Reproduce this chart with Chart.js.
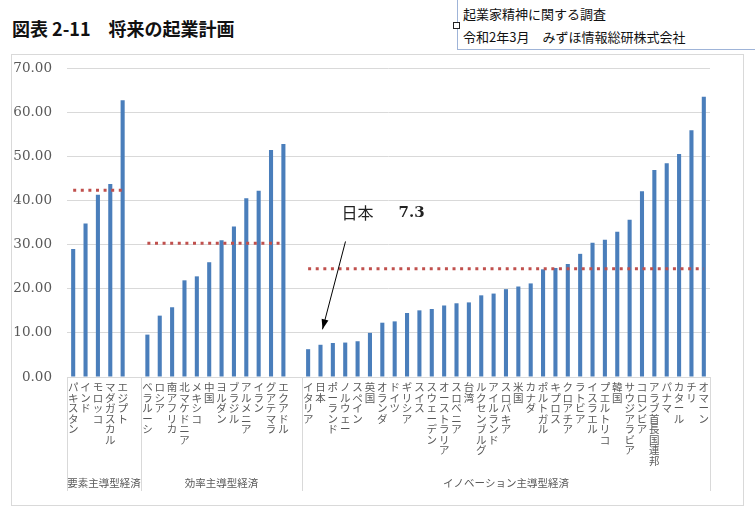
<!DOCTYPE html>
<html>
<head>
<meta charset="utf-8">
<script src="https://cdn.jsdelivr.net/npm/chart.js@4"></script>
<style>
  body { margin: 0; background: #fff; width: 755px; height: 512px; overflow: hidden; position: relative; font-family: "Noto Sans CJK JP", sans-serif; }
  .title { position: absolute; left: 12px; top: 15px; font-size: 18px; font-weight: bold; color: #111; white-space: pre; }
  .note { position: absolute; left: 457px; top: -1px; width: 310px; height: 49px; border: 1px solid #9fb4d8; font-size: 13px; color: #111; }
  .note div { position: absolute; left: 5px; white-space: pre; }
  .mark { position: absolute; left: 453px; top: 22px; width: 5px; height: 5px; border: 1px solid #222; background: #fff; }
  .frame { position: absolute; left: 11px; top: 54px; width: 731px; height: 450px; border: 1px solid #d9d9d9; }
</style>
</head>
<body>
<div class="title">図表 2-11　将来の起業計画</div>
<div class="note"><div style="top:4px">起業家精神に関する調査</div><div style="top:27px">令和2年3月　みずほ情報総研株式会社</div></div>
<div class="mark"></div>
<div class="frame"><canvas id="myChart" width="731" height="450"></canvas></div>
<script>
// グループ名
const grupos = ['要素主導型経済', '効率主導型経済', 'イノベーション主導型経済'];

// 要素主導型経済
const paises1 = ['パキスタン', 'インド', 'モロッコ', 'マダガスカル', 'エジプト'];
const valores1 = [29.0, 34.8, 41.3, 43.7, 62.7];
const promedio1 = 42.3;

// 効率主導型経済
const paises2 = ['ベラルーシ', 'ロシア', '南アフリカ', '北マケドニア', 'メキシコ', '中国', 'ヨルダン', 'ブラジル', 'アルメニア', 'イラン', 'グアテマラ', 'エクアドル'];
const valores2 = [9.6, 13.9, 15.8, 21.9, 22.8, 26.0, 31.0, 34.1, 40.5, 42.2, 51.4, 52.8];
const promedio2 = 30.3;

// イノベーション主導型経済
const paises3 = ['イタリア', '日本', 'ポーランド', 'ノルウェー', 'スペイン', '英国', 'オランダ', 'ドイツ', 'ギリシア', 'スイス', 'スウェーデン', 'オーストラリア', 'スロベニア', '台湾', 'ルクセンブルグ', 'アイルランド', 'スロバキア', '米国', 'カナダ', 'ポルトガル', 'キプロス', 'クロアチア', 'ラトビア', 'イスラエル', 'プエルトリコ', '韓国', 'サウジアラビア', 'コロンビア', 'アラブ首長国連邦', 'パナマ', 'カタール', 'チリ', 'オマーン'];
const valores3 = [6.3, 7.3, 7.7, 7.8, 8.1, 10.0, 12.3, 12.6, 14.5, 15.1, 15.4, 16.2, 16.7, 16.9, 18.5, 18.9, 19.9, 20.5, 21.2, 24.4, 24.7, 25.6, 27.9, 30.4, 31.1, 32.9, 35.6, 42.1, 46.9, 48.4, 50.5, 55.9, 63.5];
const promedio3 = 24.5;

const yTicks = [0, 10, 20, 30, 40, 50, 60, 70];

// 注記
const notaPais = '日本';
const notaTexto = '7.3';

// カテゴリを組み立てる（グループの間に空欄を1つ）
let etiquetas = [];
let barras = [];
let lineas = [];
let inicioGrupo = [];
const grupoPaises = [paises1, paises2, paises3];
const grupoValores = [valores1, valores2, valores3];
const grupoPromedio = [promedio1, promedio2, promedio3];
grupoPaises.forEach((paises, g) => {
    inicioGrupo.push(etiquetas.length);
    paises.forEach((p, i) => {
        etiquetas.push(Array.from(p));
        barras.push(grupoValores[g][i]);
        lineas.push(grupoPromedio[g]);
    });
    if (g < grupoPaises.length - 1) {
        etiquetas.push('');
        barras.push(null);
        lineas.push(null);
    }
});
inicioGrupo.push(etiquetas.length);

const gris = '#595959';

const grupoPlugin = {
    id: 'grupos',
    afterDraw(chart) {
        const ctx = chart.ctx;
        const x = chart.scales.x;
        const y = chart.scales.y;
        const paso = x.getPixelForValue(1) - x.getPixelForValue(0);
        const borde = i => x.getPixelForValue(i) - paso / 2;
        ctx.save();
        ctx.strokeStyle = '#d9d9d9';
        ctx.lineWidth = 1;
        for (let g = 0; g < inicioGrupo.length; g++) {
            let bx = Math.round(borde(inicioGrupo[g])) + 0.5;
            ctx.beginPath();
            ctx.moveTo(bx, chart.chartArea.bottom);
            ctx.lineTo(bx, chart.chartArea.bottom + 114);
            ctx.stroke();
        }
        ctx.fillStyle = gris;
        ctx.font = '10.5px "Noto Sans CJK JP"';
        ctx.textAlign = 'center';
        ctx.textBaseline = 'middle';
        for (let g = 0; g < grupos.length; g++) {
            const cx = (borde(inicioGrupo[g]) + borde(inicioGrupo[g + 1])) / 2;
            ctx.fillText(grupos[g], cx, chart.chartArea.bottom + 106);
        }
        // 日本の注記
        const idx = inicioGrupo[2] + paises3.indexOf(notaPais);
        const px = x.getPixelForValue(idx);
        const tipY = y.getPixelForValue(valores3[paises3.indexOf(notaPais)] + 3.5);
        const startX = px + 25, startY = y.getPixelForValue(30.7);
        ctx.strokeStyle = '#000';
        ctx.fillStyle = '#000';
        ctx.beginPath();
        ctx.moveTo(startX, startY);
        ctx.lineTo(px + 2, tipY);
        ctx.stroke();
        const ang = Math.atan2(tipY - startY, px + 2 - startX);
        ctx.beginPath();
        ctx.moveTo(px + 2, tipY);
        ctx.lineTo(px + 2 - 10 * Math.cos(ang) + 3.5 * Math.sin(ang), tipY - 10 * Math.sin(ang) - 3.5 * Math.cos(ang));
        ctx.lineTo(px + 2 - 10 * Math.cos(ang) - 3.5 * Math.sin(ang), tipY - 10 * Math.sin(ang) + 3.5 * Math.cos(ang));
        ctx.closePath();
        ctx.fill();
        const ty = y.getPixelForValue(37.2);
        ctx.textAlign = 'left';
        ctx.fillStyle = '#222';
        ctx.font = '16px "Noto Sans CJK JP"';
        ctx.fillText(notaPais, px + 21, ty);
        ctx.font = 'bold 15px "DejaVu Serif"';
        ctx.fillText(notaTexto, px + 78, ty);
        ctx.restore();
    }
};

const ctx = document.getElementById('myChart');
new Chart(ctx, {
    data: {
        labels: etiquetas,
        datasets: [{
            type: 'line',
            data: lineas,
            borderColor: '#c0504d',
            borderWidth: 3,
            borderDash: [3, 4.6],
            pointRadius: 0,
            spanGaps: false,
            fill: false
        }, {
            type: 'bar',
            data: barras,
            backgroundColor: '#4a7ebb',
            barPercentage: 0.33,
            categoryPercentage: 1
        }]
    },
    options: {
        responsive: false,
        animation: false,
        layout: { padding: { top: 13, right: 33, left: 0, bottom: 0 } },
        plugins: { legend: { display: false }, tooltip: { enabled: false } },
        scales: {
            x: {
                grid: { display: false, drawTicks: false },
                border: { display: false },
                ticks: {
                    autoSkip: false, maxRotation: 0, minRotation: 0, padding: 5,
                    color: gris,
                    font: { family: '"Noto Sans CJK JP"', size: 10.5, lineHeight: 1.0 }
                },
                afterFit: s => { s.height = 128; }
            },
            y: {
                min: 0, max: 70,
                afterBuildTicks: s => { s.ticks = yTicks.map(v => ({ value: v })); },
                grid: { color: '#d9d9d9', drawTicks: false },
                border: { display: false },
                ticks: {
                    padding: 15, color: gris,
                    font: { family: '"DejaVu Serif"', size: 13.5 },
                    callback: v => v.toFixed(2)
                },
                afterFit: s => { s.width = 55; s.paddingTop = 0; s.paddingBottom = 0; }
            }
        }
    },
    plugins: [grupoPlugin]
});
</script>
</body>
</html>
